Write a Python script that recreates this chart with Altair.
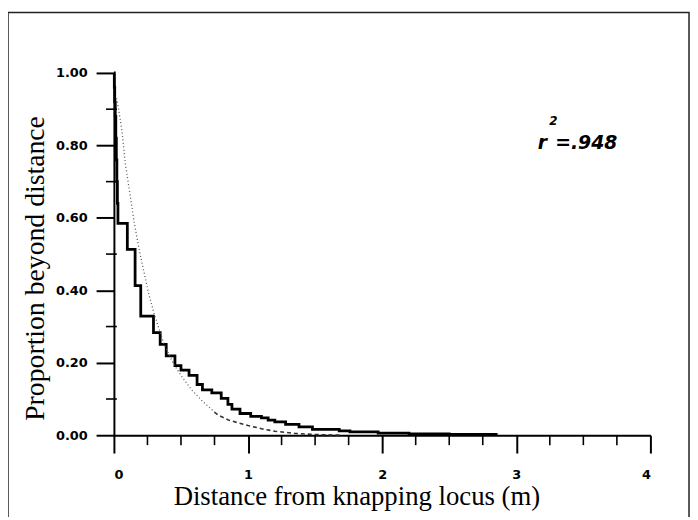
import altair as alt
import pandas as pd

step_x = [0.000, 0.003, 0.006, 0.010, 0.014, 0.018, 0.022, 0.026, 0.030, 0.100,
          0.158, 0.200, 0.295, 0.345, 0.390, 0.455, 0.500, 0.560, 0.620, 0.660,
          0.730, 0.800, 0.850, 0.880, 0.940, 1.020, 1.100, 1.150, 1.200, 1.280,
          1.380, 1.480, 1.680, 1.760, 1.970, 2.200, 2.500, 2.850]
step_y = [1.000, 0.960, 0.920, 0.880, 0.820, 0.760, 0.700, 0.640, 0.585, 0.513,
          0.413, 0.329, 0.283, 0.251, 0.219, 0.192, 0.180, 0.165, 0.140, 0.125,
          0.117, 0.102, 0.085, 0.072, 0.060, 0.052, 0.048, 0.042, 0.037, 0.030,
          0.023, 0.016, 0.012, 0.009, 0.006, 0.004, 0.002, 0.000]

# Fitted curve, dotted upper part
fit_up_x = [0.02, 0.035, 0.06, 0.085, 0.12, 0.15, 0.195, 0.26, 0.30, 0.37, 0.44, 0.50, 0.58, 0.66, 0.75]
fit_up_y = [0.93, 0.90, 0.84, 0.75, 0.665, 0.59, 0.50, 0.39, 0.335, 0.255, 0.20, 0.165, 0.125, 0.094, 0.064]
# Fitted curve, dashed lower part
fit_lo_x = [0.75, 0.78, 0.86, 1.0, 1.1, 1.2, 1.35, 1.5, 1.7]
fit_lo_y = [0.064, 0.055, 0.041, 0.027, 0.018, 0.011, 0.005, 0.002, 0.0]

x_major = [0, 1, 2, 3, 4]
x_minor = [0.25, 0.5, 0.75, 1.25, 1.5, 1.75, 2.25, 2.5, 2.75, 3.25, 3.5, 3.75]
y_major = [0.0, 0.2, 0.4, 0.6, 0.8, 1.0]
y_minor = [0.1, 0.3, 0.5, 0.7, 0.9]

# annotation r^2 = .948
ann_r = {"x": [3.16], "y": [0.79], "t": ["r"]}
ann_val = {"x": [3.29], "y": [0.79], "t": ["=.948"]}
ann_sup = {"x": [3.245], "y": [0.855], "t": ["2"]}

xs = alt.Scale(domain=[0, 4], nice=False, zero=False)
ys = alt.Scale(domain=[0, 1], nice=False)

step_df = pd.DataFrame({"x": step_x, "y": step_y})
up_df = pd.DataFrame({"x": fit_up_x, "y": fit_up_y})
lo_df = pd.DataFrame({"x": fit_lo_x, "y": fit_lo_y})

x_axis = alt.Axis(values=x_major, format="d", tickSize=18, tickWidth=2, tickColor="black",
                  domainWidth=2, domainColor="black", labelFont="DejaVu Sans",
                  labelFontWeight="bold", labelFontSize=13, labelColor="black",
                  labelPadding=16, grid=False,
                  title="Distance from knapping locus (m)", titleFont="Liberation Serif",
                  titleFontSize=27, titleFontWeight="normal", titleColor="black",
                  titleX=245, titleY=70, titleAlign="center", titleBaseline="alphabetic")
y_axis = alt.Axis(values=y_major, format=".2f", tickSize=18, tickWidth=2, tickColor="black",
                  domainWidth=2, domainColor="black", labelFont="DejaVu Sans",
                  labelFontWeight="bold", labelFontSize=13, labelColor="black",
                  labelPadding=9, grid=False,
                  title="Proportion beyond distance", titleFont="Liberation Serif",
                  titleFontSize=28, titleFontWeight="normal", titleColor="black",
                  titleX=-79, titleY=197, titleAngle=270, titleAlign="center",
                  titleBaseline="middle")

frame = alt.Chart(pd.DataFrame({"a": [0]})).mark_rect(
    filled=False, stroke="#222222", strokeWidth=1.5
).encode(x=alt.value(-107), x2=alt.value(581), y=alt.value(-61), y2=alt.value(520))

step = alt.Chart(step_df).mark_line(interpolate="step-after", color="black", strokeWidth=2.8).encode(
    x=alt.X("x:Q", scale=xs, axis=x_axis),
    y=alt.Y("y:Q", scale=ys, axis=y_axis),
)

fit_up = alt.Chart(up_df).mark_line(color="#555555", strokeWidth=1.3, strokeDash=[1, 2.5]).encode(
    x=alt.X("x:Q", scale=xs), y=alt.Y("y:Q", scale=ys)
)
fit_lo = alt.Chart(lo_df).mark_line(color="#333333", strokeWidth=1.6, strokeDash=[4, 3]).encode(
    x=alt.X("x:Q", scale=xs), y=alt.Y("y:Q", scale=ys)
)

ymin = alt.Chart(pd.DataFrame({"y": y_minor})).mark_rule(color="black", strokeWidth=1.6).encode(
    y=alt.Y("y:Q", scale=ys), x=alt.value(-8), x2=alt.value(3)
)
xmin = alt.Chart(pd.DataFrame({"x": x_minor})).mark_rule(color="black", strokeWidth=1.6).encode(
    x=alt.X("x:Q", scale=xs), y=alt.value(366), y2=alt.value(376)
)

def ann(d, size):
    return alt.Chart(pd.DataFrame(d)).mark_text(
        align="left", baseline="alphabetic", font="DejaVu Sans", fontStyle="italic",
        fontWeight="bold", fontSize=size, color="black"
    ).encode(x=alt.X("x:Q", scale=xs), y=alt.Y("y:Q", scale=ys), text="t:N")

chart = alt.layer(
    step, frame, fit_up, fit_lo, ymin, xmin,
    ann(ann_r, 19), ann(ann_val, 19), ann(ann_sup, 12)
).properties(
    width=542, height=366,
    padding={"left": 107, "top": 63, "right": 40, "bottom": 80},
    autosize=alt.AutoSizeParams(type="none"),
    background="white",
).configure_view(stroke=None)

chart.save("out.html", embed_options={"renderer": "svg", "actions": False})
